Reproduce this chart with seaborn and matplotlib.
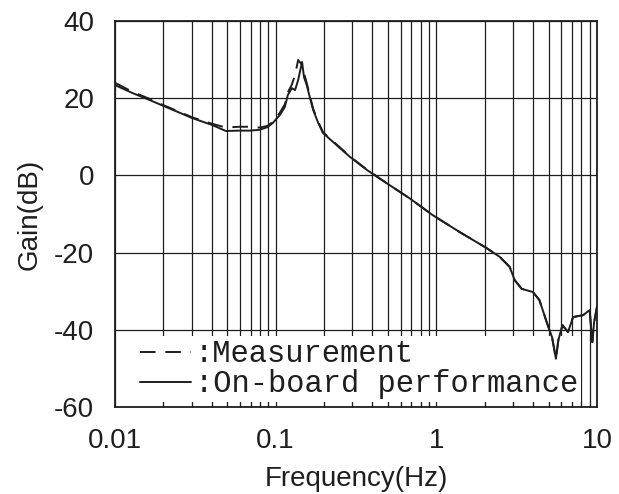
import numpy as np
import pandas as pd
import matplotlib
matplotlib.use("Agg")
import matplotlib.pyplot as plt
import seaborn as sns

# values
freq = [0.010, 0.0129, 0.0165, 0.020, 0.0254, 0.030, 0.040, 0.049, 0.059, 0.069,
        0.079, 0.089, 0.096, 0.106, 0.114, 0.119, 0.126, 0.132, 0.138, 0.146,
        0.150, 0.156, 0.163, 0.171, 0.184, 0.197, 0.227, 0.29, 0.37, 0.49,
        0.68, 0.95, 1.40, 2.05, 2.48, 2.86, 3.07, 3.40, 3.99, 4.38,
        4.88, 5.25, 5.55, 5.75, 6.10, 6.60, 7.10, 8.20, 9.00, 9.35,
        9.60, 10.0]
gain_onboard = [23.4, 21.3, 19.5, 18.0, 16.2, 14.9, 13.1, 11.5, 11.6, 11.6,
                11.8, 12.5, 13.6, 15.6, 17.7, 20.8, 22.6, 22.1, 24.7, 29.4,
                25.5, 23.4, 20.3, 17.0, 13.6, 11.0, 8.7, 4.8, 1.4, -2.0,
                -5.9, -10.3, -14.7, -18.8, -21.1, -23.7, -27.1, -29.4, -30.2, -32.3,
                -38.2, -41.9, -47.5, -42.6, -38.8, -40.6, -36.7, -36.2, -34.9, -43.2,
                -38.0, -34.0]
gain_measure = [24.0, 21.6, 19.8, 18.2, 16.4, 15.1, 13.4, 12.4, 12.6, 12.6,
                12.4, 12.8, 13.9, 16.2, 18.4, 21.5, 23.5, 26.0, 29.9, 28.6,
                26.5, 24.0, 20.8, 17.3, 13.9, 11.2, 8.9, 4.9, 1.5, -2.0,
                -5.9, -10.3, -14.7, -18.8, -21.1, -23.7, -27.1, -29.4, -30.2, -32.3,
                -38.2, -41.9, -47.5, -42.6, -38.8, -40.6, -36.7, -36.2, -34.9, -43.2,
                -38.0, -34.0]
legend_labels = [":Measurement", ":On-board performance"]
yticks = [40, 20, 0, -20, -40, -60]
xticks = [0.01, 0.1, 1, 10]
xticklabels = ["0.01", "0.1", "1", "10"]

df = pd.DataFrame({"f": freq, "onboard": gain_onboard, "measure": gain_measure})

sns.set_theme(style="white")
plt.rcParams["font.family"] = ["Liberation Sans", "DejaVu Sans"]
plt.rcParams["axes.unicode_minus"] = False
ink = "#1e1e1e"

fig = plt.figure(figsize=(6.19, 4.94), dpi=100)
ax = fig.add_axes([115 / 619, 1 - 407 / 494, (597 - 115) / 619, (407 - 21) / 494])

# curves sit above the legend's white box, like in the scan
sns.lineplot(data=df, x="f", y="measure", ax=ax, color=ink, lw=1.4,
             linestyle=(0, (8, 5)), estimator=None, sort=False, zorder=6)
sns.lineplot(data=df, x="f", y="onboard", ax=ax, color=ink, lw=1.4,
             estimator=None, sort=False, zorder=6)

ax.set_xscale("log")
ax.set_xlim(0.01, 10)
ax.set_ylim(-60, 40)
ax.set_xticks(xticks)
ax.set_xticklabels(xticklabels)
ax.set_yticks(yticks)
ax.xaxis.set_minor_locator(matplotlib.ticker.LogLocator(base=10, subs=np.arange(2, 10)))
ax.xaxis.set_minor_formatter(matplotlib.ticker.NullFormatter())

ax.grid(True, which="both", axis="x", color=ink, lw=0.9)
ax.grid(True, which="major", axis="y", color=ink, lw=0.9)
ax.tick_params(axis="both", which="major", length=0, pad=15, labelsize=20, colors=ink)
ax.tick_params(axis="x", which="minor", direction="in", length=4, width=0.8,
               bottom=True, color=ink)
for s in ax.spines.values():
    s.set_color(ink)
    s.set_linewidth(1.3)

ax.set_xlabel("Frequency(Hz)", fontsize=20, color=ink, labelpad=9)
ax.set_ylabel("Gain(dB)", fontsize=20, color=ink, labelpad=8)

leg = ax.legend(ax.get_lines()[:2], legend_labels, loc="lower left",
                bbox_to_anchor=(0.035, 0.0),
                prop={"family": ["Liberation Mono", "DejaVu Sans Mono"], "size": 22},
                handlelength=1.7, handletextpad=0.1, labelspacing=0.0,
                borderpad=0.1, borderaxespad=0.15, frameon=True, fancybox=False,
                facecolor="white", edgecolor="none", framealpha=1)
for t in leg.get_texts():
    t.set_color(ink)

fig.savefig("out.png", dpi=100)
